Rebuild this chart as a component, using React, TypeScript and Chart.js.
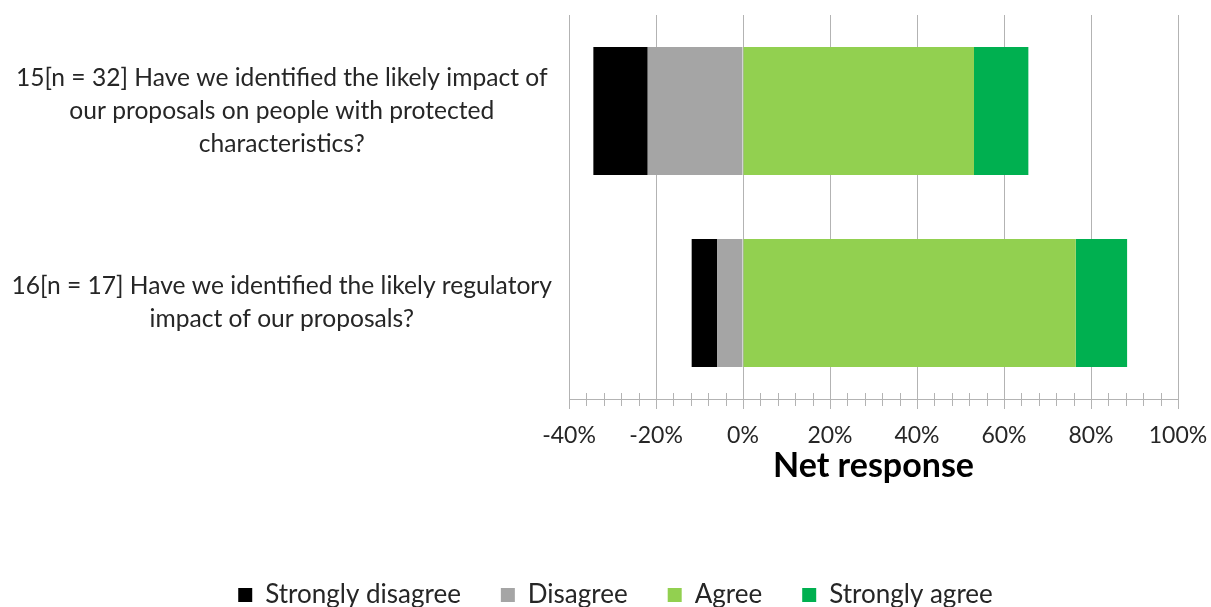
import React, { useEffect, useRef } from "react";
import { Chart, registerables } from "chart.js";

Chart.register(...registerables);

const categories: string[][] = [
  [
    "15[n = 32] Have we identified the likely impact of",
    "our proposals on people with protected",
    "characteristics?",
  ],
  [
    "16[n = 17] Have we identified the likely regulatory",
    "impact of our proposals?",
  ],
];

const stronglyDisagree = [-12.5, -5.9];
const disagree = [-21.9, -5.9];
const agree = [53.1, 76.5];
const stronglyAgree = [12.5, 11.8];

const xTicksMin = -40;
const xTicksMax = 100;
const xMajorStep = 20;
const xMinorStep = 4;

const legendOrder = ["Strongly disagree", "Disagree", "Agree", "Strongly agree"];

const GRID = "#b3b3b3";
const FONT = "Lato";

const minorTicksPlugin = {
  id: "minorTicks",
  afterDraw(chart: any) {
    const sx = chart.scales.x;
    const ctx = chart.ctx;
    const yAxis = chart.chartArea.bottom;
    ctx.save();
    ctx.strokeStyle = GRID;
    ctx.lineWidth = 1;
    for (let v = xTicksMin; v <= xTicksMax; v += xMinorStep) {
      if (v % xMajorStep === 0) continue;
      const px = Math.round(sx.getPixelForValue(v)) + 0.5;
      ctx.beginPath();
      ctx.moveTo(px, yAxis - 6);
      ctx.lineTo(px, yAxis + 7);
      ctx.stroke();
    }
    ctx.restore();
  },
};

export default function App() {
  const ref = useRef<HTMLCanvasElement | null>(null);

  useEffect(() => {
    if (!ref.current) return;
    const chart = new Chart(ref.current, {
      type: "bar",
      data: {
        labels: categories as any,
        datasets: [
          { label: "Disagree", data: disagree, backgroundColor: "#a5a5a5", borderWidth: 0 },
          { label: "Strongly disagree", data: stronglyDisagree, backgroundColor: "#000000", borderWidth: 0 },
          { label: "Agree", data: agree, backgroundColor: "#92d050", borderWidth: 0 },
          { label: "Strongly agree", data: stronglyAgree, backgroundColor: "#00b050", borderWidth: 0 },
        ],
      },
      options: {
        indexAxis: "y",
        animation: false,
        responsive: true,
        maintainAspectRatio: false,
        datasets: { bar: { categoryPercentage: 1, barPercentage: 0.667 } },
        layout: { padding: { top: 15, left: 4, right: -16, bottom: -11 } },
        scales: {
          x: {
            stacked: true,
            min: xTicksMin,
            max: xTicksMax,
            ticks: {
              stepSize: xMajorStep,
              callback: (v: any) => `${v}%`,
              color: "#262626",
              font: { family: FONT, size: 23 },
              padding: 13,
            },
            grid: { color: GRID, tickColor: GRID, tickLength: 10, lineWidth: 1 },
            border: { color: GRID },
            title: {
              display: true,
              text: "Net response",
              color: "#000000",
              font: { family: FONT, size: 34, weight: "bold" },
              padding: { top: 0, bottom: 56 },
            },
            afterFit: (s: any) => {
              s.height = 143;
              s.paddingLeft = 0;
              s.paddingRight = 0;
            },
          },
          y: {
            stacked: true,
            ticks: {
              crossAlign: "center",
              color: "#262626",
              font: { family: FONT, size: 24.6, lineHeight: 1.34 },
              padding: 17,
            },
            grid: { display: false, drawTicks: false },
            border: { display: false },
            afterFit: (s: any) => {
              s.width = 565;
              s.paddingTop = 0;
              s.paddingBottom = 0;
            },
          },
          rightSpace: {
            type: "linear",
            position: "right",
            axis: "y",
            ticks: { display: false },
            grid: { display: false, drawTicks: false },
            border: { display: false },
            afterFit: (s: any) => {
              s.width = 49;
              s.paddingTop = 0;
              s.paddingBottom = 0;
            },
          },
        },
        plugins: {
          tooltip: { enabled: false },
          legend: {
            position: "bottom",
            labels: {
              boxWidth: 14,
              boxHeight: 14,
              padding: 40,
              color: "#262626",
              font: { family: FONT, size: 26 },
              sort: (a: any, b: any) => legendOrder.indexOf(a.text) - legendOrder.indexOf(b.text),
            },
          },
        },
      },
      plugins: [minorTicksPlugin],
    });
    return () => chart.destroy();
  }, []);

  return (
    <div style={{ position: "absolute", left: 0, top: 0, width: "1211px", height: "607px" }}>
      <canvas ref={ref} />
    </div>
  );
}
